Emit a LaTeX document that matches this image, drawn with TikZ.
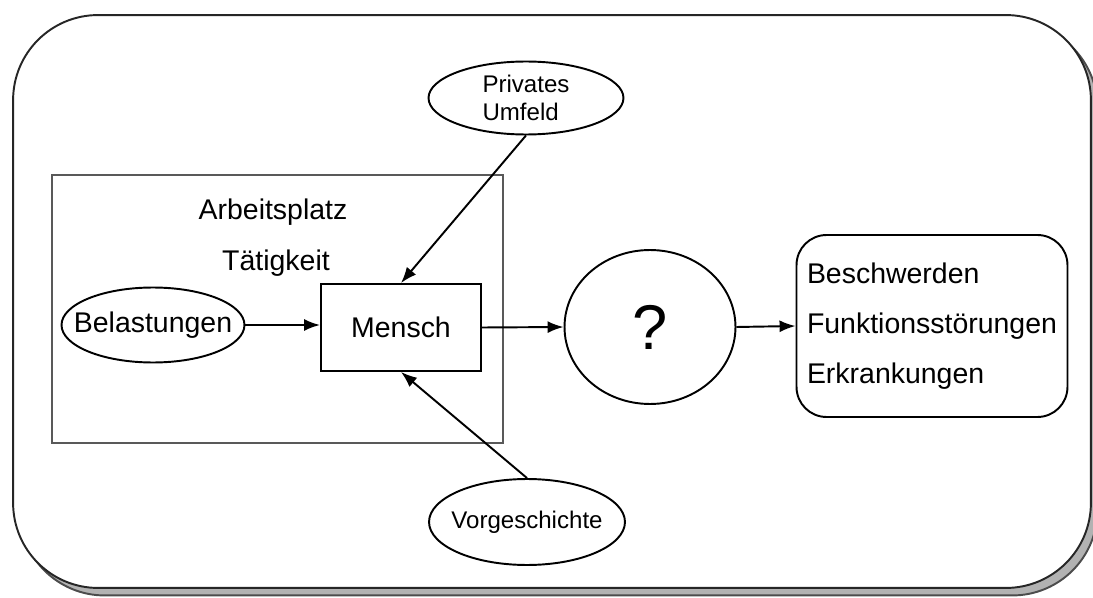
\documentclass[tikz,border=0pt]{standalone}
\usepackage{fontspec}
\setmainfont{Liberation Sans}
\usetikzlibrary{shapes.geometric,arrows.meta,shadows}

\begin{document}
\begin{tikzpicture}[x=0.02cm, y=-0.02cm, line width=1.1pt,
    font=\fontsize{16.2}{19}\selectfont,
    rahmen/.style={draw=black!85, rounded corners=1.7cm,
      drop shadow={shadow xshift=0.13cm, shadow yshift=-0.15cm,
        fill=gray!60, draw=black!70, opacity=1}, fill=white},
    oval/.style={ellipse, draw, inner sep=-1cm},
    klein/.style={font=\fontsize{13.7}{16}\selectfont},
    kasten/.style={rectangle, draw, inner sep=0pt},
    pfeil/.style={-{Latex[length=0.32cm, width=0.24cm]}, line width=1.1pt}]

\useasboundingbox (0,0) rectangle (1093,598);

% Rahmen mit Schatten
\node[rahmen, minimum width=21.56cm, minimum height=11.46cm] (rahmen) at (552,301.5) {};

% Arbeitsplatz
\node[kasten, draw=black!65, line width=1.3pt, minimum width=9.02cm, minimum height=5.36cm] (arbeit) at (277.5,309) {};
\node (platz) at (273,212) {Arbeitsplatz};
\node (taetig) at (276,263) {Tätigkeit};

\node[oval, minimum width=3.66cm, minimum height=1.5cm] (bel) at (153,325) {Belastungen};
\node[kasten, minimum width=3.2cm, minimum height=1.74cm] (mensch) at (401,327.5) {Mensch};

\node[oval, klein, align=left, minimum width=3.9cm, minimum height=1.46cm] (privat) at (526,98) {Privates\\Umfeld};
\node[oval, klein, minimum width=3.92cm, minimum height=1.72cm] (vorg) at (527,522) {Vorgeschichte};

\node[oval, minimum width=3.42cm, minimum height=3.08cm, font=\fontsize{36}{40}\selectfont] (frage) at (650,327) {?};

\node[draw, rounded corners=0.6cm, minimum width=5.42cm, minimum height=3.64cm, align=left,
      font=\fontsize{16.2}{28.4}\selectfont] (folgen) at (932,326)
      {Beschwerden\\Funktionsstörungen\\Erkrankungen};

% Pfeile
\draw[pfeil] (bel.east) -- (bel.east -| mensch.west);
\draw[pfeil] (privat.south) -- (mensch.north);
\draw[pfeil] (vorg.north) -- (mensch.south);
\draw[pfeil] (mensch.east) -- (frage.west);
\draw[pfeil] (frage.east) -- (folgen.west);
\end{tikzpicture}
\end{document}
